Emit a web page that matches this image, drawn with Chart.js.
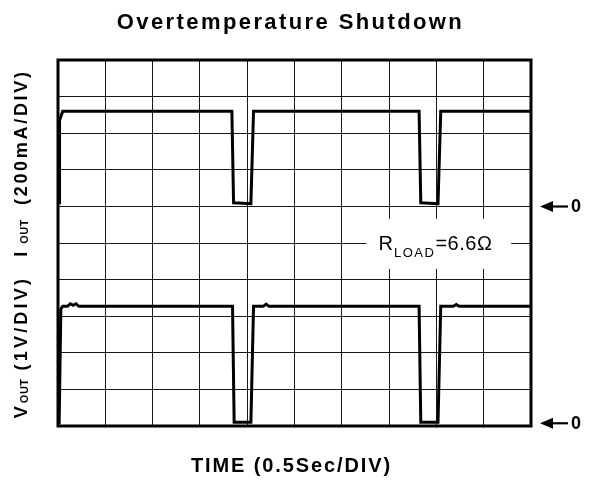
<!DOCTYPE html>
<html>
<head>
<meta charset="utf-8">
<script src="https://cdn.jsdelivr.net/npm/chart.js@4.4.0/dist/chart.umd.min.js"></script>
<style>
  html, body { margin: 0; padding: 0; background: #fff; }
  #wrap { width: 594px; height: 480px; }
</style>
</head>
<body>
<div id="wrap"><canvas id="chart" width="594" height="480"></canvas></div>
<script>
// scope screen: 10 x 10 divisions, time 0.5 s/div
var timeRange = [0, 5];      // seconds
var divRange = [0, 10];      // vertical divisions
var currentZeroDiv = 6;      // I_OUT ground marker sits on division 6
var voltageZeroDiv = 0.05;   // V_OUT ground marker near the bottom
var mAPerDiv = 200;
var voltsPerDiv = 1;

// I_OUT trace (s, mA)
var currentTime = [0.012, 0.016, 0.05, 1.838, 1.856, 2.039, 2.067, 3.817, 3.835, 4.017, 4.046, 5.0];
var currentMA   = [20,    470,   520,  520,   20,    15,    520,   520,   20,    15,    520,   520];

// V_OUT trace (s, V)
var voltageTime = [0.012, 0.03, 0.05, 0.10, 0.13, 0.16, 0.19, 0.22, 0.25, 1.845, 1.862, 2.039, 2.067,
                   2.17, 2.20, 2.23, 3.817, 3.835, 4.017, 4.046, 4.18, 4.21, 4.24, 5.0];
var voltageV    = [0.05,  3.2,  3.27, 3.27, 3.34, 3.30, 3.34, 3.27, 3.27, 3.27,  0.1,   0.1,   3.27,
                   3.27, 3.33, 3.27, 3.27,  0.1,   0.1,   3.27,  3.27, 3.32, 3.27, 3.27];

// R_LOAD note, placed in data units (s, div)
var noteBox = { x0: 3.26, x1: 4.79, y0: 4.29, y1: 5.66 };
var noteAt = { x: 3.99, y: 4.8 };

var FONT = "'Liberation Sans', Arial, Helvetica, sans-serif";

function toPoints(times, values, scaleFn) {
  return times.map(function(t, i) { return { x: t, y: scaleFn(values[i]) }; });
}

var currentPts = toPoints(currentTime, currentMA, function(v) { return currentZeroDiv + v / mAPerDiv; });
var voltagePts = toPoints(voltageTime, voltageV, function(v) { return v / voltsPerDiv; });

// draw a row of text pieces (for subscripts), centred on (cx, baseline cy)
function drawRuns(ctx, runs, cx, cy, rotate) {
  ctx.save();
  ctx.translate(cx, cy);
  if (rotate) ctx.rotate(-Math.PI / 2);
  ctx.textAlign = 'left';
  ctx.textBaseline = 'alphabetic';
  ctx.fillStyle = '#000';
  var total = 0;
  runs.forEach(function(r) {
    ctx.font = r.font;
    ctx.letterSpacing = r.spacing || '0px';
    r.w = ctx.measureText(r.text).width + (r.gap || 0);
    total += r.w;
  });
  var x = -total / 2;
  runs.forEach(function(r) {
    ctx.font = r.font;
    ctx.letterSpacing = r.spacing || '0px';
    ctx.fillText(r.text, x, r.dy || 0);
    x += r.w;
  });
  ctx.restore();
}

function drawZeroArrow(ctx, x, y) {
  ctx.save();
  ctx.fillStyle = '#000';
  ctx.beginPath();
  ctx.moveTo(x, y);
  ctx.lineTo(x + 13, y - 5.5);
  ctx.lineTo(x + 13, y + 5.5);
  ctx.closePath();
  ctx.fill();
  ctx.fillRect(x + 10, y - 1, 18, 2.2);
  ctx.font = 'bold 18px ' + FONT;
  ctx.textBaseline = 'middle';
  ctx.fillText('0', x + 31, y + 1);
  ctx.restore();
}

var scopeDecor = {
  id: 'scopeDecor',
  beforeDraw: function(chart) {
    var ctx = chart.ctx;
    ctx.save();
    ctx.fillStyle = '#fff';
    ctx.fillRect(0, 0, chart.width, chart.height);
    ctx.restore();
  },
  beforeDatasetsDraw: function(chart) {
    var ctx = chart.ctx, xs = chart.scales.x, ys = chart.scales.y;
    // white patch behind the load note
    ctx.save();
    ctx.fillStyle = '#fff';
    var l = xs.getPixelForValue(noteBox.x0), r = xs.getPixelForValue(noteBox.x1);
    var t = ys.getPixelForValue(noteBox.y1), b = ys.getPixelForValue(noteBox.y0);
    ctx.fillRect(l, t, r - l, b - t);
    ctx.restore();
    drawRuns(ctx, [
      { text: 'R', font: '20px ' + FONT, gap: 1 },
      { text: 'LOAD', font: '13px ' + FONT, spacing: '1.5px', dy: 7 },
      { text: '=6.6\u03A9', font: '20px ' + FONT, spacing: '0.5px' }
    ], xs.getPixelForValue(noteAt.x), ys.getPixelForValue(noteAt.y), false);
  },
  afterDatasetsDraw: function(chart) {
    var ctx = chart.ctx, a = chart.chartArea, ys = chart.scales.y;
    ctx.save();
    ctx.strokeStyle = '#000';
    ctx.lineWidth = 3;
    ctx.strokeRect(a.left, a.top, a.right - a.left, a.bottom - a.top);
    ctx.restore();

    drawZeroArrow(ctx, a.right + 9, ys.getPixelForValue(currentZeroDiv));
    drawZeroArrow(ctx, a.right + 9, ys.getPixelForValue(voltageZeroDiv) - 1);

    drawRuns(ctx, [{ text: 'Overtemperature Shutdown', font: 'bold 22px ' + FONT, spacing: '2.4px' }],
      (a.left + a.right) / 2 - 4, 29, false);
    drawRuns(ctx, [{ text: 'TIME (0.5Sec/DIV)', font: 'bold 20px ' + FONT, spacing: '1.9px' }],
      (a.left + a.right) / 2 - 3, 472, false);

    drawRuns(ctx, [
      { text: 'I', font: 'bold 18px ' + FONT, gap: 8 },
      { text: 'OUT', font: 'bold 11px ' + FONT, spacing: '0.5px', dy: 1, gap: 14 },
      { text: '(200mA/DIV)', font: 'bold 18px ' + FONT, spacing: '2.7px' }
    ], a.left - 31, 163, true);
    drawRuns(ctx, [
      { text: 'V', font: 'bold 18px ' + FONT, gap: 3 },
      { text: 'OUT', font: 'bold 11px ' + FONT, spacing: '0.5px', dy: 1, gap: 8 },
      { text: '(1V/DIV)', font: 'bold 18px ' + FONT, spacing: '3.2px' }
    ], a.left - 31, 347, true);
  }
};

var gridStyle = { color: '#1a1a1a', lineWidth: 1, drawTicks: false };

new Chart(document.getElementById('chart').getContext('2d'), {
  type: 'line',
  data: {
    datasets: [
      { label: 'I_OUT', data: currentPts, borderColor: '#000', borderWidth: 3, pointRadius: 0, tension: 0, fill: false },
      { label: 'V_OUT', data: voltagePts, borderColor: '#000', borderWidth: 3, pointRadius: 0, tension: 0, fill: false }
    ]
  },
  options: {
    responsive: false,
    animation: false,
    events: [],
    layout: { padding: { left: 58, top: 60, right: 63, bottom: 54 } },
    plugins: { legend: { display: false }, tooltip: { enabled: false }, title: { display: false } },
    scales: {
      x: {
        type: 'linear', min: timeRange[0], max: timeRange[1],
        ticks: { display: false, stepSize: 0.5 },
        grid: gridStyle, border: { display: false }
      },
      y: {
        type: 'linear', min: divRange[0], max: divRange[1],
        ticks: { display: false, stepSize: 1 },
        grid: gridStyle, border: { display: false }
      }
    }
  },
  plugins: [scopeDecor]
});
</script>
</body>
</html>
